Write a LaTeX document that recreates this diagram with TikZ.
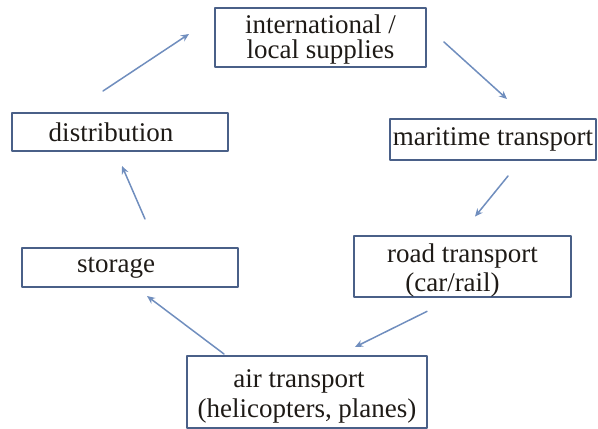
\documentclass[tikz,border=0pt]{standalone}
\usepackage{fontspec}
\setmainfont{Liberation Serif}
\usetikzlibrary{arrows.meta}

\definecolor{boxline}{RGB}{74,96,136}
\definecolor{arrowline}{RGB}{112,142,190}
\definecolor{inktext}{RGB}{30,26,22}

\tikzset{
  stage/.style={draw=boxline, line width=2pt, text=inktext, align=center,
    inner sep=0pt, font=\fontsize{27}{29}\selectfont},
  flow/.style={draw=arrowline, line width=1.5pt, -{Stealth[length=8pt,width=7pt]}}
}

\begin{document}
\begin{tikzpicture}[x=1pt, y=-1pt, line cap=round, line join=round]
  \useasboundingbox (0,0) rectangle (598,429);

  % Stages
  \node[stage, minimum width=211pt, minimum height=59pt] (supply) at (320.5,37.5)
    {\rule{0pt}{22pt}international /\\[-4pt]local supplies};
  \node[stage, minimum width=206pt, minimum height=41pt] (maritime) at (493,139.5)
    {maritime transport};
  \node[stage, minimum width=217pt, minimum height=57pt] (road) at (462.5,266.5)
    {\rule{0pt}{27pt}road transport\\(car/rail)\hspace*{20pt}};
  \node[stage, minimum width=240pt, minimum height=72pt] (air) at (307,392)
    {\rule{0pt}{27pt}air transport\hspace*{16pt}\\[1pt](helicopters, planes)};
  \node[stage, minimum width=216pt, minimum height=39pt] (storage) at (130,267.5)
    {storage\hspace*{28pt}};
  \node[stage, minimum width=216pt, minimum height=38pt] (distrib) at (120,132)
    {distribution\hspace*{18pt}};

  % Cycle
  \draw[flow] ([xshift=-17pt,yshift=21pt]distrib.north) -- ([xshift=-25pt,yshift=3.5pt]supply.west);
  \draw[flow] ([xshift=17pt,yshift=-4.5pt]supply.east) -- ([xshift=14pt,yshift=19pt]maritime.north);
  \draw[flow] ([xshift=15pt,yshift=-15pt]maritime.south) -- ([xshift=12.5pt,yshift=18pt]road.north);
  \draw[flow] ([xshift=-35.5pt,yshift=-13pt]road.south) -- ([xshift=48pt,yshift=8pt]air.north);
  \draw[flow] ([xshift=38pt,yshift=1pt]air.north west) -- ([xshift=17pt,yshift=-8pt]storage.south);
  \draw[flow] ([xshift=15pt,yshift=28pt]storage.north) -- ([xshift=2pt,yshift=-14pt]distrib.south);
\end{tikzpicture}
\end{document}
